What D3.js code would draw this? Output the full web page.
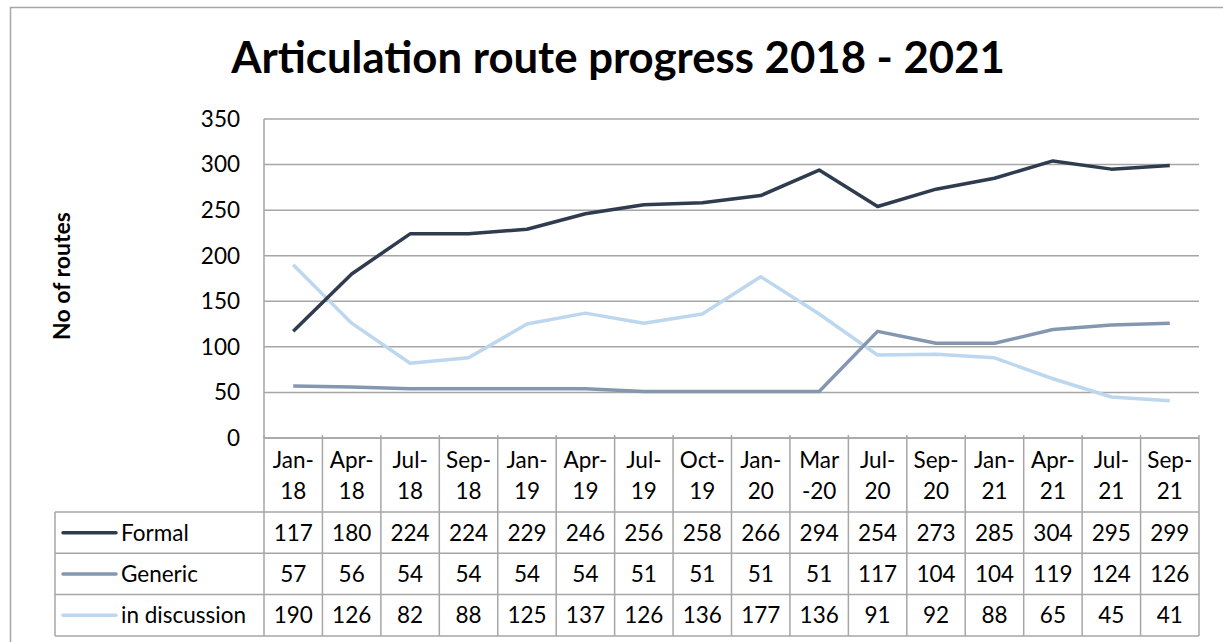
<!DOCTYPE html>
<html>
<head>
<meta charset="utf-8">
<script src="https://cdn.jsdelivr.net/npm/d3@7"></script>
<style>
  body { margin: 0; background: #fff; }
  svg { display: block; font-family: "Lato", "Open Sans", sans-serif; }
</style>
</head>
<body>
<div id="chart"></div>
<script>
// Data
const categories = ["Jan-18", "Apr-18", "Jul-18", "Sep-18", "Jan-19", "Apr-19", "Jul-19", "Oct-19",
  "Jan-20", "Mar-20", "Jul-20", "Sep-20", "Jan-21", "Apr-21", "Jul-21", "Sep-21"];
// two-line header labels as in the table
const categoryLines = [["Jan-", "18"], ["Apr-", "18"], ["Jul-", "18"], ["Sep-", "18"], ["Jan-", "19"],
  ["Apr-", "19"], ["Jul-", "19"], ["Oct-", "19"], ["Jan-", "20"], ["Mar", "-20"], ["Jul-", "20"],
  ["Sep-", "20"], ["Jan-", "21"], ["Apr-", "21"], ["Jul-", "21"], ["Sep-", "21"]];
const formal = [117, 180, 224, 224, 229, 246, 256, 258, 266, 294, 254, 273, 285, 304, 295, 299];
const generic = [57, 56, 54, 54, 54, 54, 51, 51, 51, 51, 117, 104, 104, 119, 124, 126];
const inDiscussion = [190, 126, 82, 88, 125, 137, 126, 136, 177, 136, 91, 92, 88, 65, 45, 41];
const seriesNames = ["Formal", "Generic", "in discussion"];
const yTicks = [0, 50, 100, 150, 200, 250, 300, 350];

const series = [
  { name: seriesNames[0], values: formal, color: "#2f3b4f" },
  { name: seriesNames[1], values: generic, color: "#8497b0" },
  { name: seriesNames[2], values: inDiscussion, color: "#bdd7ee" },
];

const width = 1223, height = 642;
const plot = { left: 264, right: 1199, top: 119, bottom: 438 };
const table = { left: 55, headerBottom: 512, rowH: 41.3 };
const gridColor = "#a6a6a6";
const fs = "22.5px";

const svg = d3.select("#chart").append("svg")
  .attr("width", width)
  .attr("height", height);

// outer chart frame (runs past the picture on the right / bottom)
svg.append("rect")
  .attr("x", 10.5).attr("y", 7.5)
  .attr("width", 1240).attr("height", 660)
  .attr("fill", "none")
  .attr("stroke", "#a6a6a6")
  .attr("stroke-width", 1.5);

// title
svg.append("text")
  .attr("x", 618).attr("y", 73)
  .attr("text-anchor", "middle")
  .attr("font-size", "43.7px")
  .attr("font-weight", "bold")
  .text("Articulation route progress 2018 - 2021");

const x = d3.scaleBand()
  .domain(categories)
  .range([plot.left, plot.right]);

const y = d3.scaleLinear()
  .domain([0, 350])
  .range([plot.bottom, plot.top]);

// gridlines
svg.append("g")
  .selectAll("line")
  .data(yTicks)
  .join("line")
  .attr("x1", plot.left).attr("x2", plot.right)
  .attr("y1", d => y(d)).attr("y2", d => y(d))
  .attr("stroke", gridColor)
  .attr("stroke-width", 1.5);

// left axis line
svg.append("line")
  .attr("x1", plot.left).attr("x2", plot.left)
  .attr("y1", plot.top).attr("y2", plot.bottom)
  .attr("stroke", gridColor)
  .attr("stroke-width", 1.5);

// y tick labels
svg.append("g")
  .selectAll("text")
  .data(yTicks)
  .join("text")
  .attr("x", 240)
  .attr("y", d => y(d))
  .attr("dy", "0.35em")
  .attr("text-anchor", "end")
  .attr("font-size", fs)
  .text(d => d);

// y axis title
svg.append("text")
  .attr("transform", "translate(70,276) rotate(-90)")
  .attr("text-anchor", "middle")
  .attr("font-size", "23px")
  .attr("font-weight", "bold")
  .text("No of routes");

// lines
const line = d3.line()
  .x((d, i) => x(categories[i]) + x.bandwidth() / 2)
  .y(d => y(d));

svg.append("g")
  .selectAll("path")
  .data(series.slice().reverse())
  .join("path")
  .attr("d", d => line(d.values))
  .attr("fill", "none")
  .attr("stroke", d => d.color)
  .attr("stroke-width", 3.5)
  .attr("stroke-linejoin", "round");

// data table
const tbl = svg.append("g");
const rowTop = i => table.headerBottom + i * table.rowH;
const tableBottom = rowTop(series.length);

// horizontal table lines
tbl.append("line")
  .attr("x1", plot.left).attr("x2", plot.right)
  .attr("y1", plot.bottom).attr("y2", plot.bottom)
  .attr("stroke", gridColor).attr("stroke-width", 1.5);
d3.range(series.length + 1).forEach(i => {
  tbl.append("line")
    .attr("x1", table.left).attr("x2", plot.right)
    .attr("y1", rowTop(i)).attr("y2", rowTop(i))
    .attr("stroke", gridColor).attr("stroke-width", 1.5);
});

// vertical table lines (category boundaries, with a small tick above)
const bounds = categories.map(c => x(c)).concat([plot.right]);
tbl.selectAll("line.v")
  .data(bounds)
  .join("line")
  .attr("class", "v")
  .attr("x1", d => d).attr("x2", d => d)
  .attr("y1", plot.bottom - 3).attr("y2", tableBottom)
  .attr("stroke", gridColor).attr("stroke-width", 1.5);
tbl.append("line")
  .attr("x1", table.left).attr("x2", table.left)
  .attr("y1", table.headerBottom).attr("y2", tableBottom)
  .attr("stroke", gridColor).attr("stroke-width", 1.5);

// header labels
const header = tbl.selectAll("g.hdr")
  .data(categoryLines)
  .join("g")
  .attr("class", "hdr")
  .attr("transform", (d, i) => `translate(${x(categories[i]) + x.bandwidth() / 2},0)`);
header.append("text")
  .attr("y", 468).attr("text-anchor", "middle").attr("font-size", fs)
  .text(d => d[0]);
header.append("text")
  .attr("y", 499).attr("text-anchor", "middle").attr("font-size", fs)
  .text(d => d[1]);

// rows
series.forEach((s, r) => {
  const cy = rowTop(r) + table.rowH / 2;
  tbl.append("line")
    .attr("x1", 63).attr("x2", 116)
    .attr("y1", cy).attr("y2", cy)
    .attr("stroke", s.color).attr("stroke-width", 3.5)
    .attr("stroke-linecap", "round");
  tbl.append("text")
    .attr("x", 121).attr("y", cy).attr("dy", "0.35em")
    .attr("font-size", fs)
    .text(s.name);
  tbl.selectAll(null)
    .data(s.values)
    .join("text")
    .attr("x", (d, i) => x(categories[i]) + x.bandwidth() / 2)
    .attr("y", cy).attr("dy", "0.35em")
    .attr("text-anchor", "middle")
    .attr("font-size", fs)
    .text(d => d);
});
</script>
</body>
</html>
